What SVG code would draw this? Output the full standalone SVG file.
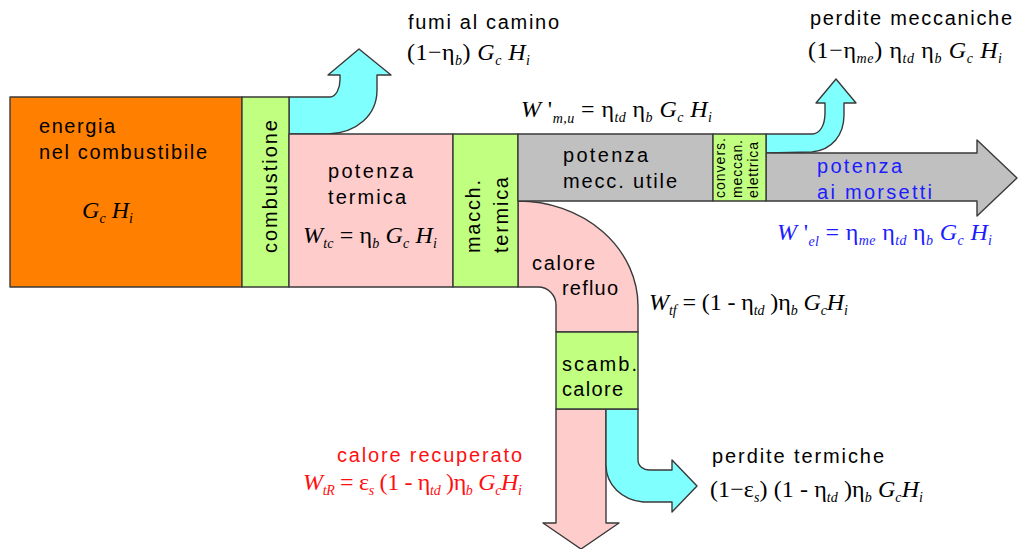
<svg xmlns="http://www.w3.org/2000/svg" width="1018" height="549" viewBox="0 0 1018 549">
<style>
.sh{stroke:#3a3a3a;stroke-width:1.4;stroke-linejoin:round}
.or{fill:#ff8000}.gr{fill:#c0ff80}.pk{fill:#ffcccc}.gy{fill:#c0c0c0}.cy{fill:#80ffff}
.l{font-family:"Liberation Sans",Arial,sans-serif;font-size:20px;fill:#000}
.sm{font-size:14px}
.e{font-family:"Liberation Serif","Times New Roman",serif;font-size:24px;fill:#000}
.i{font-style:italic}
.s{font-style:italic;font-size:14px}
.blue{fill:#1c1cff}.red{fill:#ff1010}
</style>
<rect width="1018" height="549" fill="#fff"/>
<g id="connectors">
  <path class="sh cy" d="M289,97 L330,97 C336,97 340,88 340,80 L340,75 L328,75 L359,49 L391,75 L377,75 L377,90 C377,115 357,133 328,134 L289,134 Z"/>
  <path class="sh cy" d="M766,134 L812,134 C820,134 825,125 825,113 L825,103 L816,103 L836,79 L856,103 L844,103 L844,115 C844,135 832,150 812,152 L766,153 Z"/>
  <path class="sh gy" d="M766,153 L977,153 L977,140 L1017,178 L977,216 L977,201 L766,201 Z"/>
  <path class="sh pk" d="M518,201 A120,105 0 0 1 638,306 L638,332 L556,332 L556,305 A18,18 0 0 0 538,287 L518,287 Z"/>
  <path class="sh pk" d="M556,409 L606,409 L606,523 L619,523 L581,549 L543,523 L556,523 Z"/>
  <path class="sh cy" d="M606,409 L638,409 L638,460 C638,466 643,470 650,470 L672,470 L672,460 L697,486 L672,512 L672,502 L643,502 C622,500 606,485 606,465 Z"/>
</g>
<g id="energia">
  <rect class="sh or" x="10" y="97" width="232" height="190"/>
  <text class="l" x="39" y="133" textLength="76" lengthAdjust="spacing">energia</text>
  <text class="l" x="39" y="159" textLength="168" lengthAdjust="spacing">nel combustibile</text>
  <text class="e" x="82" y="218" textLength="51" lengthAdjust="spacing"><tspan class="i">G</tspan><tspan class="s" dy="5">c</tspan><tspan class="i" dy="-5"> H</tspan><tspan class="s" dy="5">i</tspan></text>
</g>
<g id="combustione">
  <rect class="sh gr" x="242" y="97" width="47" height="190"/>
  <text class="l" transform="translate(277,253) rotate(-90)" textLength="133" lengthAdjust="spacing">combustione</text>
</g>
<g id="potenza-termica">
  <rect class="sh pk" x="289" y="134" width="164" height="153"/>
  <text class="l" x="328" y="178" textLength="85" lengthAdjust="spacing">potenza</text>
  <text class="l" x="328" y="204" textLength="78" lengthAdjust="spacing">termica</text>
  <text class="e" x="303" y="243" textLength="134" lengthAdjust="spacing"><tspan class="i">W</tspan><tspan class="s" dy="5">tc</tspan><tspan dy="-5"> = η</tspan><tspan class="s" dy="5">b</tspan><tspan class="i" dy="-5"> G</tspan><tspan class="s" dy="5">c</tspan><tspan class="i" dy="-5"> H</tspan><tspan class="s" dy="5">i</tspan></text>
</g>
<g id="macchina-termica">
  <rect class="sh gr" x="453" y="134" width="65" height="153"/>
  <text class="l" transform="translate(480,253) rotate(-90)" textLength="73" lengthAdjust="spacing">macch.</text>
  <text class="l" transform="translate(508,253) rotate(-90)" textLength="76" lengthAdjust="spacing">termica</text>
</g>
<g id="potenza-mecc">
  <rect class="sh gy" x="518" y="134" width="195" height="67"/>
  <text class="l" x="563" y="162" textLength="85" lengthAdjust="spacing">potenza</text>
  <text class="l" x="563" y="188" textLength="114" lengthAdjust="spacing">mecc. utile</text>
</g>
<g id="conversione">
  <rect class="sh gr" x="713" y="134" width="53" height="67"/>
  <text class="l sm" transform="translate(725,198) rotate(-90)" textLength="60" lengthAdjust="spacing">convers.</text>
  <text class="l sm" transform="translate(742,198) rotate(-90)" textLength="58" lengthAdjust="spacing">meccan.</text>
  <text class="l sm" transform="translate(758,198) rotate(-90)" textLength="56" lengthAdjust="spacing">elettrica</text>
</g>
<g id="scambiatore">
  <rect class="sh gr" x="556" y="332" width="82" height="77"/>
  <text class="l" x="562" y="371" textLength="75" lengthAdjust="spacing">scamb.</text>
  <text class="l" x="562" y="396" textLength="61" lengthAdjust="spacing">calore</text>
</g>
<g id="calore-refluo">
  <text class="l" x="532" y="270" textLength="63" lengthAdjust="spacing">calore</text>
  <text class="l" x="562" y="295" textLength="56" lengthAdjust="spacing">refluo</text>
  <text class="e" x="649" y="310" textLength="199" lengthAdjust="spacing"><tspan class="i">W</tspan><tspan class="s" dy="5">tf</tspan><tspan dy="-5"> = (1 - η</tspan><tspan class="s" dy="5">td</tspan><tspan dy="-5"> )η</tspan><tspan class="s" dy="5">b</tspan><tspan class="i" dy="-5"> G</tspan><tspan class="s" dy="5">c</tspan><tspan class="i" dy="-5">H</tspan><tspan class="s" dy="5">i</tspan></text>
</g>
<g id="fumi">
  <text class="l" x="408" y="29" textLength="151" lengthAdjust="spacing">fumi al camino</text>
  <text class="e" x="407" y="60" textLength="123" lengthAdjust="spacing">(1−η<tspan class="s" dy="5">b</tspan><tspan dy="-5">) </tspan><tspan class="i">G</tspan><tspan class="s" dy="5">c</tspan><tspan class="i" dy="-5"> H</tspan><tspan class="s" dy="5">i</tspan></text>
</g>
<g id="lavoro-mecc">
  <text class="e" x="521" y="117" textLength="191" lengthAdjust="spacing"><tspan class="i">W</tspan><tspan> '</tspan><tspan class="s" dy="6">m,u</tspan><tspan dy="-6"> = η</tspan><tspan class="s" dy="5">td</tspan><tspan dy="-5"> η</tspan><tspan class="s" dy="5">b</tspan><tspan class="i" dy="-5"> G</tspan><tspan class="s" dy="5">c</tspan><tspan class="i" dy="-5"> H</tspan><tspan class="s" dy="5">i</tspan></text>
</g>
<g id="perdite-meccaniche">
  <text class="l" x="810" y="25" textLength="202" lengthAdjust="spacing">perdite meccaniche</text>
  <text class="e" x="808" y="58" textLength="194" lengthAdjust="spacing">(1−η<tspan class="s" dy="5">me</tspan><tspan dy="-5">) η</tspan><tspan class="s" dy="5">td</tspan><tspan dy="-5"> η</tspan><tspan class="s" dy="5">b</tspan><tspan class="i" dy="-5"> G</tspan><tspan class="s" dy="5">c</tspan><tspan class="i" dy="-5"> H</tspan><tspan class="s" dy="5">i</tspan></text>
</g>
<g id="potenza-morsetti">
  <text class="l blue" x="817" y="173" textLength="85" lengthAdjust="spacing">potenza</text>
  <text class="l blue" x="817" y="199" textLength="115" lengthAdjust="spacing">ai morsetti</text>
  <text class="e blue" x="777" y="240" textLength="215" lengthAdjust="spacing"><tspan class="i">W</tspan><tspan> '</tspan><tspan class="s" dy="6">el</tspan><tspan dy="-6"> = η</tspan><tspan class="s" dy="5">me</tspan><tspan dy="-5"> η</tspan><tspan class="s" dy="5">td</tspan><tspan dy="-5"> η</tspan><tspan class="s" dy="5">b</tspan><tspan class="i" dy="-5"> G</tspan><tspan class="s" dy="5">c</tspan><tspan class="i" dy="-5"> H</tspan><tspan class="s" dy="5">i</tspan></text>
</g>
<g id="calore-recuperato">
  <text class="l red" x="337" y="462" textLength="185" lengthAdjust="spacing">calore recuperato</text>
  <text class="e red" x="303" y="490" textLength="219" lengthAdjust="spacing"><tspan class="i">W</tspan><tspan class="s" dy="5">tR</tspan><tspan dy="-5"> = ε</tspan><tspan class="s" dy="5">s</tspan><tspan dy="-5"> (1 - η</tspan><tspan class="s" dy="5">td</tspan><tspan dy="-5"> )η</tspan><tspan class="s" dy="5">b</tspan><tspan class="i" dy="-5"> G</tspan><tspan class="s" dy="5">c</tspan><tspan class="i" dy="-5">H</tspan><tspan class="s" dy="5">i</tspan></text>
</g>
<g id="perdite-termiche">
  <text class="l" x="712" y="463" textLength="172" lengthAdjust="spacing">perdite termiche</text>
  <text class="e" x="710" y="497" textLength="213" lengthAdjust="spacing">(1−ε<tspan class="s" dy="5">s</tspan><tspan dy="-5">) (1 - η</tspan><tspan class="s" dy="5">td</tspan><tspan dy="-5"> )η</tspan><tspan class="s" dy="5">b</tspan><tspan class="i" dy="-5"> G</tspan><tspan class="s" dy="5">c</tspan><tspan class="i" dy="-5">H</tspan><tspan class="s" dy="5">i</tspan></text>
</g>
</svg>
